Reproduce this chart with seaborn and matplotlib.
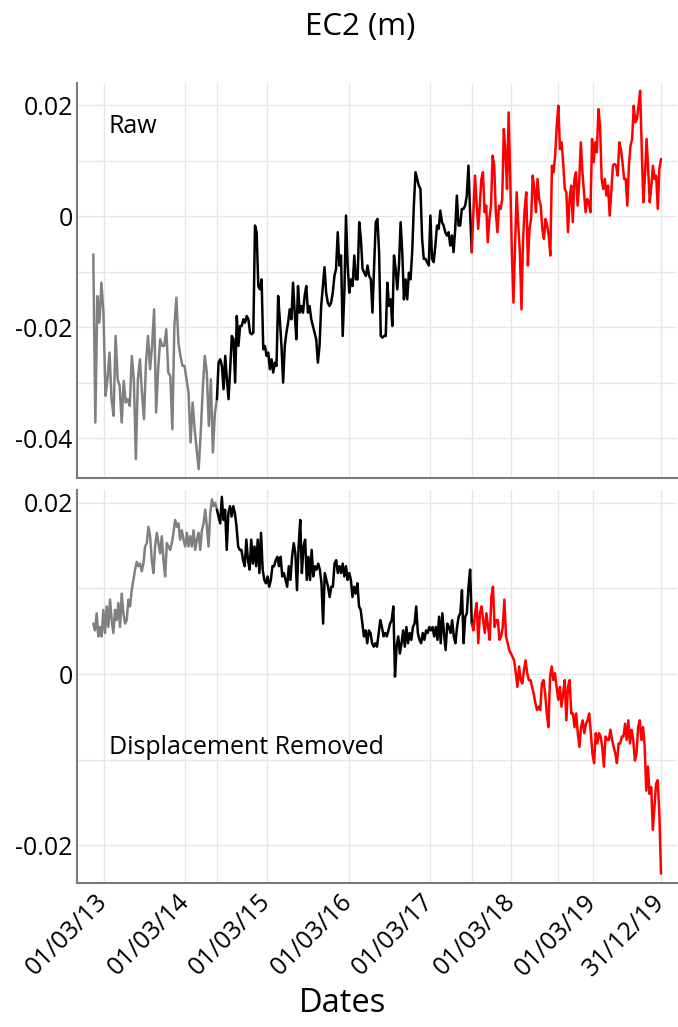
import numpy as np
import pandas as pd
import matplotlib
matplotlib.use("Agg")
import matplotlib.pyplot as plt
import matplotlib.dates as mdates
from matplotlib.ticker import FixedLocator, FixedFormatter
import seaborn as sns

# ---------------- data ----------------
SEG_START = "2013-01-12"
GRAY_END = "2014-07-20"
BLACK_END = "2017-09-04"
RED_END = "2019-12-31"

raw_gray = [-0.0069, -0.0372, -0.0144, -0.0192, -0.0120, -0.0174, -0.0324, -0.0294, -0.0246, -0.0330,
            -0.0360, -0.0216, -0.0294, -0.0306, -0.0372, -0.0297, -0.0336, -0.0330, -0.0342, -0.0252,
            -0.0294, -0.0438, -0.0294, -0.0258, -0.0318, -0.0366, -0.0264, -0.0216, -0.0276, -0.0234,
            -0.0168, -0.0354, -0.0276, -0.0222, -0.0234, -0.0234, -0.0204, -0.0282, -0.0288, -0.0384,
            -0.0198, -0.0147, -0.0228, -0.0252, -0.0270, -0.0270, -0.0294, -0.0318, -0.0408, -0.0336,
            -0.0384, -0.0420, -0.0456, -0.0390, -0.0312, -0.0252, -0.0282, -0.0378, -0.0294, -0.0426,
            -0.0354, -0.0330]

raw_black = [-0.0330, -0.0264, -0.0258, -0.0270, -0.0312, -0.0252, -0.0294, -0.0330, -0.0276, -0.0216,
             -0.0222, -0.0300, -0.0180, -0.0234, -0.0198, -0.0198, -0.0186, -0.0192, -0.0180, -0.0186,
             -0.0210, -0.0213, -0.0210, -0.0017, -0.0029, -0.0126, -0.0132, -0.0114, -0.0240, -0.0234,
             -0.0252, -0.0246, -0.0276, -0.0258, -0.0282, -0.0264, -0.0270, -0.0144, -0.0186, -0.0234,
             -0.0300, -0.0234, -0.0210, -0.0192, -0.0168, -0.0186, -0.0120, -0.0174, -0.0222, -0.0126,
             -0.0174, -0.0162, -0.0174, -0.0144, -0.0126, -0.0174, -0.0162, -0.0186, -0.0198, -0.0210,
             -0.0222, -0.0264, -0.0234, -0.0162, -0.0126, -0.0092, -0.0138, -0.0156, -0.0162, -0.0156,
             -0.0138, -0.0108, -0.0095, -0.0029, -0.0089, -0.0071, -0.0216, -0.0138, 0.0001, -0.0089,
             -0.0138, -0.0114, -0.0126, -0.0071, -0.0114, -0.0114, -0.0011, -0.0041, -0.0095, -0.0102,
             -0.0108, -0.0089, -0.0108, -0.0114, -0.0174, -0.0089, -0.0011, -0.0005, -0.0065,
             -0.0216, -0.0219, -0.0216, -0.0216, -0.0120, -0.0162, -0.0150, -0.0198, -0.0071, -0.0095,
             -0.0132, -0.0089, -0.0011, -0.0065, -0.0150, -0.0114, -0.0150, -0.0102, -0.0114, -0.0065,
             0.0019, 0.0079, 0.0067, 0.0055, 0.0049, -0.0041, -0.0077, -0.0077, -0.0083, -0.0089,
             0.0001, -0.0077, -0.0083, -0.0053, -0.0017, -0.0023, 0.0010, -0.0011, -0.0017, -0.0029,
             -0.0035, -0.0029, -0.0053, -0.0035, -0.0065, -0.0023, 0.0037, -0.0017, -0.0017, 0.0013,
             0.0013, 0.0019, 0.0037, 0.0091, 0.0007, -0.0065]

raw_red = [-0.0065, 0.0007, 0.0073, 0.0025, -0.0023, 0.0019, 0.0067, 0.0079, 0.0007, 0.0019,
           -0.0047, -0.0005, 0.0019, 0.0109, 0.0091, 0.0007, -0.0029, 0.0019, 0.0013, 0.0031,
           0.0157, 0.0115, 0.0049, 0.0187, 0.0067, -0.0065, -0.0156, -0.0053, 0.0043, -0.0017,
           -0.0065, -0.0168, -0.0041, 0.0013, 0.0043, -0.0089, -0.0023, -0.0005, 0.0073, 0.0049,
           0.0007, 0.0067, 0.0031, 0.0019, -0.0023, -0.0041, -0.0005, -0.0017, -0.0035, -0.0071,
           0.0091, 0.0079, 0.0109, 0.0163, 0.0199, 0.0121, 0.0133, 0.0097, 0.0049, 0.0043,
           -0.0029, 0.0031, 0.0055, -0.0011, 0.0067, 0.0079, 0.0019, 0.0061, 0.0133, 0.0079,
           0.0043, 0.0007, 0.0031, 0.0025, 0.0007, 0.0139, 0.0097, 0.0133, 0.0115, 0.0193,
           0.0163, 0.0067, 0.0049, 0.0067, 0.0037, 0.0055, 0.0001, 0.0043, 0.0091, 0.0094,
           0.0091, 0.0073, 0.0133, 0.0121, 0.0097, 0.0067, 0.0067, 0.0019, 0.0091, 0.0127,
           0.0139, 0.0199, 0.0169, 0.0175, 0.0199, 0.0226, 0.0121, 0.0025, 0.0073, 0.0139,
           0.0085, 0.0025, 0.0055, 0.0091, 0.0067, 0.0073, 0.0013, 0.0085, 0.0103]

rem_gray = [0.0059, 0.0051, 0.0071, 0.0044, 0.0055, 0.0044, 0.0075, 0.0048, 0.0079, 0.0055,
            0.0087, 0.0063, 0.0048, 0.0075, 0.0063, 0.0083, 0.0055, 0.0094, 0.0071, 0.0059,
            0.0063, 0.0087, 0.0079, 0.0098, 0.0110, 0.0122, 0.0131, 0.0126, 0.0129, 0.0120,
            0.0129, 0.0149, 0.0153, 0.0172, 0.0161, 0.0133, 0.0118, 0.0149, 0.0165, 0.0153,
            0.0141, 0.0161, 0.0133, 0.0114, 0.0153, 0.0149, 0.0145, 0.0153, 0.0165, 0.0180,
            0.0172, 0.0176, 0.0157, 0.0168, 0.0157, 0.0149, 0.0165, 0.0149, 0.0161, 0.0149,
            0.0168, 0.0145, 0.0157, 0.0165, 0.0145, 0.0168, 0.0176, 0.0192, 0.0172, 0.0149,
            0.0188, 0.0204, 0.0196, 0.0200, 0.0192]

rem_black = [0.0192, 0.0184, 0.0176, 0.0207, 0.0180, 0.0192, 0.0145, 0.0188, 0.0196, 0.0184,
             0.0196, 0.0188, 0.0172, 0.0149, 0.0145, 0.0145, 0.0133, 0.0126, 0.0157, 0.0133,
             0.0122, 0.0157, 0.0129, 0.0149, 0.0126, 0.0157, 0.0118, 0.0165, 0.0122, 0.0110,
             0.0106, 0.0114, 0.0102, 0.0110, 0.0126, 0.0126, 0.0133, 0.0137, 0.0126, 0.0137,
             0.0114, 0.0118, 0.0110, 0.0102, 0.0126, 0.0110, 0.0137, 0.0153, 0.0141, 0.0098,
             0.0149, 0.0180, 0.0118, 0.0149, 0.0157, 0.0110, 0.0137, 0.0110, 0.0145, 0.0114,
             0.0126, 0.0122, 0.0129, 0.0122, 0.0106, 0.0059, 0.0118, 0.0110, 0.0102, 0.0090,
             0.0102, 0.0102, 0.0129, 0.0133, 0.0118, 0.0126, 0.0118, 0.0129, 0.0114, 0.0126,
             0.0110, 0.0118, 0.0110, 0.0090, 0.0102, 0.0094, 0.0106, 0.0079, 0.0075, 0.0059,
             0.0044, 0.0051, 0.0036, 0.0051, 0.0048, 0.0036, 0.0032, 0.0036, 0.0032, 0.0048,
             0.0063, 0.0055,
             0.0044, 0.0048, 0.0044, 0.0051, 0.0059, 0.0063, 0.0079, -0.0003, 0.0032, 0.0044,
             0.0024, 0.0036, 0.0051, 0.0032, 0.0055, 0.0036, 0.0048, 0.0040, 0.0055, 0.0059,
             0.0079, 0.0048, 0.0040, 0.0036, 0.0048, 0.0040, 0.0051, 0.0048, 0.0055, 0.0051,
             0.0055, 0.0044, 0.0055, 0.0040, 0.0067, 0.0036, 0.0071, 0.0048, 0.0028, 0.0059,
             0.0055, 0.0048, 0.0063, 0.0044, 0.0036, 0.0055, 0.0067, 0.0071, 0.0098, 0.0036,
             0.0067, 0.0071, 0.0102, 0.0122, 0.0059]

rem_red = [0.0059, 0.0051, 0.0071, 0.0083, 0.0036, 0.0071, 0.0079, 0.0063, 0.0048, 0.0071,
           0.0055, 0.0040, 0.0090, 0.0102, 0.0055, 0.0063, 0.0063, 0.0040, 0.0044, 0.0055,
           0.0087, 0.0044, 0.0036, 0.0028, 0.0024, 0.0020, 0.0016, 0.0001, -0.0015, 0.0009,
           -0.0007, -0.0011, 0.0005, 0.0016, 0.0001, -0.0007, -0.0007, -0.0015, -0.0023, -0.0034,
           -0.0042, -0.0038, -0.0042, -0.0011, -0.0007, -0.0023, -0.0046, -0.0062, -0.0003, 0.0009,
           -0.0007, 0.0001, -0.0015, -0.0030, -0.0015, -0.0038, -0.0023, -0.0007, -0.0054, -0.0015,
           -0.0007, -0.0046, -0.0046, -0.0062, -0.0046, -0.0069, -0.0085, -0.0062, -0.0054, -0.0069,
           -0.0058, -0.0054, -0.0046, -0.0069, -0.0093, -0.0104, -0.0069, -0.0081, -0.0069, -0.0073,
           -0.0085, -0.0108, -0.0073, -0.0077, -0.0077, -0.0065, -0.0077, -0.0085, -0.0093, -0.0104,
           -0.0081, -0.0081, -0.0073, -0.0073, -0.0058, -0.0077, -0.0054, -0.0081, -0.0065, -0.0077,
           -0.0101, -0.0093, -0.0062, -0.0054, -0.0077, -0.0062, -0.0085, -0.0136, -0.0108, -0.0140,
           -0.0132, -0.0182, -0.0155, -0.0128, -0.0124, -0.0163, -0.0233]

tick_dates = ["2013-03-01", "2014-03-01", "2014-07-20", "2015-03-01", "2016-03-01",
              "2017-03-01", "2017-09-04", "2018-03-01", "2018-09-26", "2019-03-01", "2019-12-31"]
tick_labels = ["01/03/13", "01/03/14", "", "01/03/15", "01/03/16",
               "01/03/17", "", "01/03/18", "", "01/03/19", "31/12/19"]

top_yticks = [0.02, 0.01, 0.0, -0.01, -0.02, -0.03, -0.04]
top_ylabels = ["0.02", "", "0", "", "-0.02", "", "-0.04"]
bot_yticks = [0.02, 0.01, 0.0, -0.01, -0.02]
bot_ylabels = ["0.02", "", "0", "", "-0.02"]

# ---------------- style ----------------
sns.set_theme(style="white")
plt.rcParams["font.family"] = ["Open Sans", "DejaVu Sans"]
plt.rcParams["text.color"] = "black"
plt.rcParams["axes.labelcolor"] = "black"

GRAY = "#808080"
SPINE = "#7a7a7a"
GRID = "#e6e6e6"


def segment(start, end, vals):
    return pd.DataFrame({"date": pd.date_range(start, end, periods=len(vals)), "value": vals})


fig = plt.figure(figsize=(6.78, 10.27), dpi=100)
ax1 = fig.add_axes([0.1136, 0.5346, 0.885, 0.3846])
ax2 = fig.add_axes([0.1136, 0.1402, 0.885, 0.3827])

panels = [
    (ax1, raw_gray, raw_black, raw_red, top_yticks, top_ylabels, (-0.0472, 0.024)),
    (ax2, rem_gray, rem_black, rem_red, bot_yticks, bot_ylabels, (-0.0244, 0.0215)),
]

for ax, g, b, r, yt, yl, ylim in panels:
    for start, end, vals, col in [(SEG_START, GRAY_END, g, GRAY),
                                  (GRAY_END, BLACK_END, b, "black"),
                                  (BLACK_END, RED_END, r, "red")]:
        sns.lineplot(data=segment(start, end, vals), x="date", y="value", color=col,
                     linewidth=1.8, ax=ax, legend=False)
    ax.set_xlim(pd.Timestamp("2012-10-31"), pd.Timestamp("2020-03-12"))
    ax.set_ylim(*ylim)
    ax.xaxis.set_major_locator(FixedLocator(mdates.date2num(pd.to_datetime(tick_dates))))
    ax.yaxis.set_major_locator(FixedLocator(yt))
    ax.yaxis.set_major_formatter(FixedFormatter(yl))
    ax.grid(True, color=GRID, linewidth=1.0)
    ax.set_axisbelow(True)
    for s in ["top", "right"]:
        ax.spines[s].set_visible(False)
    for s in ["left", "bottom"]:
        ax.spines[s].set_color(SPINE)
        ax.spines[s].set_linewidth(1.5)
    ax.tick_params(axis="both", direction="in", length=4, width=1, color=SPINE,
                   labelcolor="black")
    ax.tick_params(axis="y", labelsize=18, pad=3)
    ax.tick_params(axis="x", labelsize=18, pad=11)
    ax.set_xlabel("")
    ax.set_ylabel("")

ax1.xaxis.set_major_formatter(FixedFormatter([""] * len(tick_labels)))
ax2.xaxis.set_major_formatter(FixedFormatter(tick_labels))
for lab in ax2.get_xticklabels():
    lab.set_rotation(45)
    lab.set_ha("right")
    lab.set_va("center")
    lab.set_rotation_mode("anchor")

ax1.text(0.052, 0.889, "Raw", transform=ax1.transAxes, fontsize=18, va="center", ha="left")
ax2.text(0.054, 0.346, "Displacement Removed", transform=ax2.transAxes, fontsize=18,
         va="center", ha="left")

fig.text(0.531, 0.974, "EC2 (m)", fontsize=22.5, ha="center", va="center")
fig.text(0.505, 0.0225, "Dates", fontsize=23.5, ha="center", va="center")

fig.savefig("out.png", dpi=100)
